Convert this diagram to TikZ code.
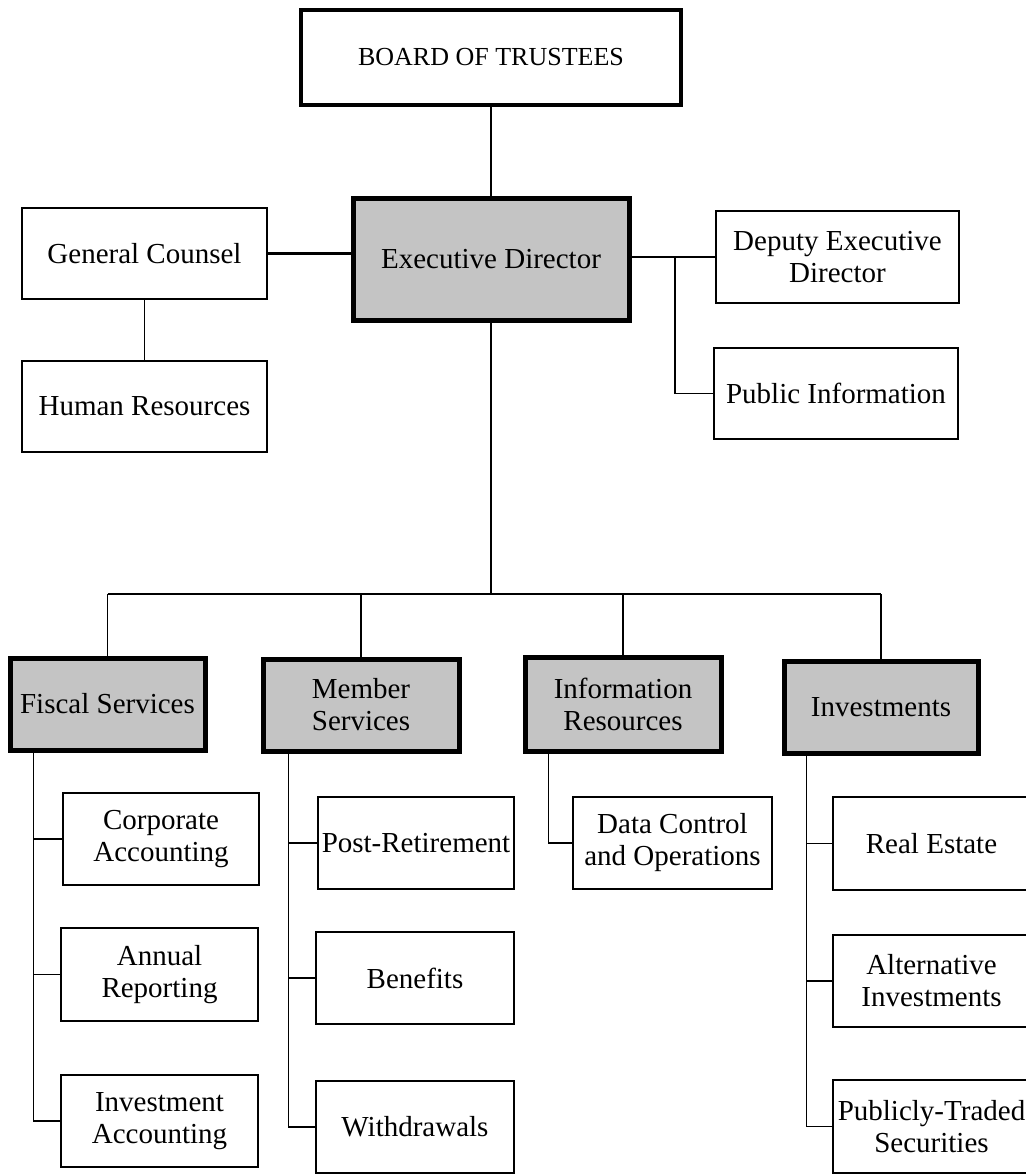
\documentclass[tikz,border=0pt]{standalone}
\usepackage{fontspec}
\setmainfont{Liberation Serif}
\definecolor{shade}{RGB}{196,196,196}
\begin{document}
\begin{tikzpicture}[x=1pt,y=-1pt,
  box/.style={draw=black, line width=1.8pt, fill=white, align=center, inner sep=0pt,
    font=\fontsize{29}{32}\selectfont},
  headbox/.style={box, fill=shade, line width=5pt},
  topbox/.style={box, line width=3.5pt, font=\fontsize{26}{30}\selectfont},
  link/.style={draw=black, line width=1.7pt}]
\useasboundingbox (0,0) rectangle (1025,1174);
% top level
\node[topbox, minimum width=380pt, minimum height=95pt] (board) at (491,57.5) {BOARD OF TRUSTEES};
\node[headbox, minimum width=276pt, minimum height=121pt] (exec) at (491,259.5) {Executive Director};
\node[box, minimum width=245pt, minimum height=91pt] (gc) at (144.5,253.5) {General Counsel};
\node[box, minimum width=245pt, minimum height=91pt] (hr) at (144.5,406.5) {Human Resources};
\node[box, minimum width=243pt, minimum height=92pt] (dep) at (837.5,257) {Deputy Executive\\Director};
\node[box, minimum width=244pt, minimum height=91pt] (pub) at (836,393.5) {Public Information};
% divisions
\node[headbox, minimum width=195pt, minimum height=92pt] (fis) at (107.5,704) {Fiscal Services};
\node[headbox, minimum width=196pt, minimum height=92pt] (mem) at (361,705) {Member\\Services};
\node[headbox, minimum width=196pt, minimum height=94pt] (inf) at (623,704) {Information\\Resources};
\node[headbox, minimum width=194pt, minimum height=92pt] (inv) at (881,707) {Investments};
% fiscal subunits
\node[box, minimum width=196pt, minimum height=92pt] (ca) at (161,839) {Corporate\\Accounting};
\node[box, minimum width=197pt, minimum height=93pt] (ar) at (159.5,974.5) {Annual\\Reporting};
\node[box, minimum width=197pt, minimum height=92pt] (ia) at (159.5,1121) {Investment\\Accounting};
% member subunits
\node[box, minimum width=196pt, minimum height=92pt] (pr) at (416,843) {Post-Retirement};
\node[box, minimum width=198pt, minimum height=92pt] (ben) at (415,978) {Benefits};
\node[box, minimum width=198pt, minimum height=92pt] (wd) at (415,1127) {Withdrawals};
% information subunit
\node[box, minimum width=199pt, minimum height=92pt] (dc) at (672.5,843) {Data Control\\and Operations};
% investment subunits
\node[box, minimum width=197pt, minimum height=93pt] (re) at (931.5,843.5) {Real Estate};
\node[box, minimum width=197pt, minimum height=92pt] (ai) at (931.5,981) {Alternative\\Investments};
\node[box, minimum width=197pt, minimum height=93pt] (pt) at (931.5,1126.5) {Publicly-Traded\\Securities};
% connectors
\coordinate (bus) at (488,594);
\coordinate (br) at (675,257);
\draw[link] (board.south) -- (exec.north);
\draw[link, line width=2.4pt] (gc.east) -- (gc.east -| exec.west);
\draw[link] (gc.south) -- (hr.north);
\draw[link, line width=2pt] (exec.east |- dep.west) -- (dep.west);
\draw[link] (br) |- (pub.west);
\draw[link] (exec.south) -- (exec.south |- bus);
\draw[link, line width=2pt] (fis.north |- bus) -- (inv.north |- bus);
\draw[link] (fis.north |- bus) -- (fis.north);
\draw[link] (mem.north |- bus) -- (mem.north);
\draw[link] (inf.north |- bus) -- (inf.north);
\draw[link] (inv.north |- bus) -- (inv.north);
\draw[link] ([xshift=26pt]fis.south west) |- (ca.west);
\draw[link] ([xshift=26pt]fis.south west) |- (ar.west);
\draw[link] ([xshift=26pt]fis.south west) |- (ia.west);
\draw[link] ([xshift=28pt]mem.south west) |- (pr.west);
\draw[link] ([xshift=28pt]mem.south west) |- (ben.west);
\draw[link] ([xshift=28pt]mem.south west) |- (wd.west);
\draw[link] ([xshift=26pt]inf.south west) |- (dc.west);
\draw[link] ([xshift=25pt]inv.south west) |- (re.west);
\draw[link] ([xshift=25pt]inv.south west) |- (ai.west);
\draw[link] ([xshift=25pt]inv.south west) |- (pt.west);
\end{tikzpicture}
\end{document}
